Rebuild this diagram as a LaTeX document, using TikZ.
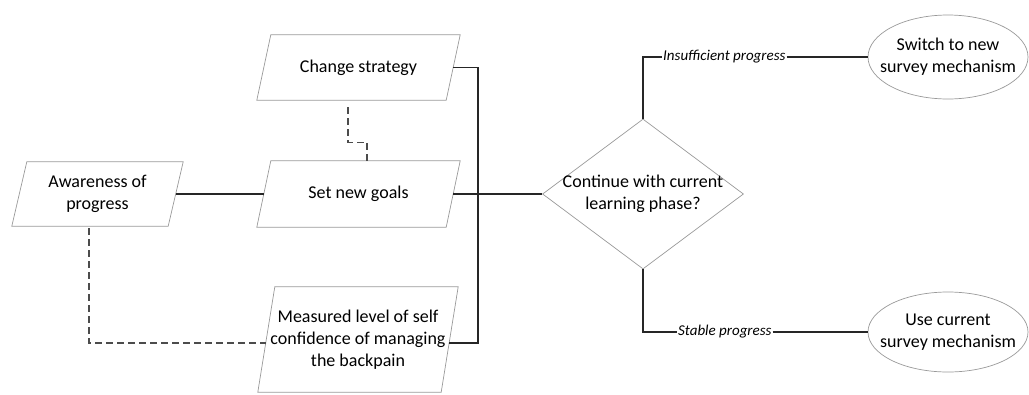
\documentclass[tikz,border=0pt]{standalone}
\usepackage{fontspec}
\setmainfont{Carlito}
\usetikzlibrary{shapes.geometric}
% outline of a right-leaning parallelogram around a rectangular node
\newcommand\drawslant[2]{%
  \draw[outline] ([xshift=#2]#1.north west) -- (#1.north east)
    -- ([xshift=-#2]#1.south east) -- (#1.south west) -- cycle;}
\begin{document}
\begin{tikzpicture}[x=1pt,y=-1pt,
  boxtext/.style={inner sep=0pt, align=center, font=\fontsize{18}{22}\selectfont},
  outline/.style={draw=black!40, line width=0.7pt},
  link/.style={draw=black!85, line width=1.3pt},
  dashlink/.style={draw=black!70, line width=1.3pt, dash pattern=on 7pt off 4pt},
  branch/.style={font=\fontsize{15}{18}\selectfont\itshape, inner sep=1pt},
]
\useasboundingbox (0,0) rectangle (1029,394);

% slanted data boxes
\node[boxtext, minimum width=203pt, minimum height=65pt] (cs) at (358.5,67.5) {Change strategy};
\drawslant{cs}{14pt}
\node[boxtext, minimum width=203pt, minimum height=66pt] (sg) at (358.5,194) {Set new goals};
\drawslant{sg}{14pt}
\node[boxtext, minimum width=171pt, minimum height=64pt] (aw) at (97.5,194) {Awareness of\\progress};
\drawslant{aw}{15pt}
\node[boxtext, minimum width=200pt, minimum height=105pt] (ms) at (358,339.5) {Measured level of self\\confidence of managing\\the backpain};
\drawslant{ms}{17pt}

% decision
\node[diamond, outline, minimum width=201pt, minimum height=150pt, inner sep=0pt] (dm) at (643,194) {};
\node[boxtext] (dmtext) at (dm.center) {Continue with current\\learning phase?};

% outcomes
\node[ellipse, outline, minimum width=160pt, minimum height=84pt, inner sep=0pt] (sw) at (948,57) {};
\node[boxtext] (swtext) at (sw.center) {Switch to new\\survey mechanism};
\node[ellipse, outline, minimum width=160pt, minimum height=80pt, inner sep=0pt] (uc) at (948,332) {};
\node[boxtext] (uctext) at (uc.center) {Use current\\survey mechanism};

% branch labels
\node[branch, anchor=west] (ins) at (662,57) {Insufficient progress};
\node[branch, anchor=west] (stb) at (677,332) {Stable progress};

% connection points on the slanted edges
\coordinate (bus) at (478,200);
\coordinate (msR) at ([xshift=-9pt,yshift=-3.5pt]ms.east);
\coordinate (msL) at ([xshift=8pt,yshift=-3.5pt]ms.west);

% solid connectors
\draw[link] ([xshift=-7.5pt]aw.east) -- ([xshift=7pt]sg.west);
\draw[link] ([xshift=-7pt]sg.east) -- (dm.west);
\draw[link] ([xshift=-7pt]cs.east) -| (bus |- msR) -- (msR);
\draw[link] (dm.north) |- (ins.west);
\draw[link] (ins.east) -- (sw.west);
\draw[link] (dm.south) |- (stb.west);
\draw[link] (stb.east) -- (uc.west);

% dashed connectors
\draw[dashlink] ([xshift=-10.5pt,yshift=-7pt]cs.south) -- ++(0,35) -| ([xshift=8.5pt]sg.north);
\draw[dashlink] ([xshift=-8.5pt,yshift=-2pt]aw.south) |- (msL);
\end{tikzpicture}
\end{document}
